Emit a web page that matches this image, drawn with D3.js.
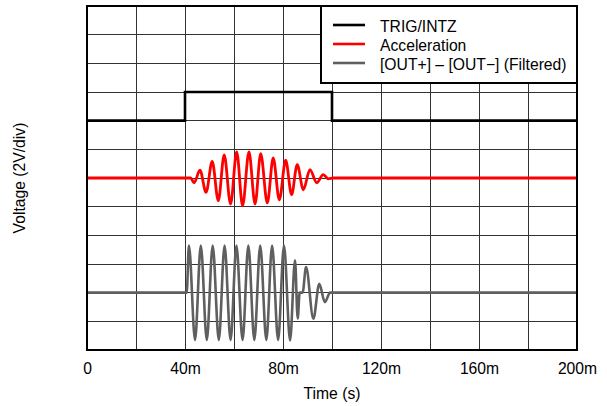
<!DOCTYPE html>
<html>
<head>
<meta charset="utf-8">
<script src="https://cdn.jsdelivr.net/npm/d3@7"></script>
<style>
  html, body { margin: 0; padding: 0; background: #fff; }
  svg { display: block; font-family: "Liberation Sans", Arial, Helvetica, sans-serif; }
</style>
</head>
<body>
<svg id="chart" width="607" height="406"></svg>
<script>
// ---- Data (time in ms, levels in divisions, 2 V/div) ----
const xTickValues = [0, 40, 80, 120, 160, 200];
const xTickLabels = ["0", "40m", "80m", "120m", "160m", "200m"];
const seriesNames = ["TRIG/INTZ", "Acceleration", "[OUT+] \u2013 [OUT\u2212] (Filtered)"];

const trigTime  = [0, 40, 40, 100, 100, 200];
const trigLevel = [8, 8, 9, 9, 8, 8];

const accelBase  = 6;
const accelTime  = [0, 42.3, 43.7, 46.1, 48.6, 51.1, 53.6, 56.0, 58.6, 61.1, 63.5, 66.1, 68.6, 70.9, 73.6, 76.0, 78.5, 81.1, 83.5, 85.8, 88.3, 91.0, 93.8, 96.4, 98.5, 100.5, 200];
const accelValue = [0, 0, -0.17, 0.27, -0.5, 0.58, -0.79, 0.81, -0.91, 0.91, -0.97, 0.91, -0.91, 0.85, -0.87, 0.70, -0.76, 0.62, -0.58, 0.47, -0.41, 0.29, -0.17, 0.12, -0.03, 0, 0];

const outBase  = 2;
const outTime  = [0, 40.7, 41.6, 44.1, 46.45, 48.9, 51.3, 53.8, 56.15, 58.6, 61.0, 63.5, 65.85, 68.3, 70.7, 73.2, 75.55, 78.0, 80.4, 82.9, 84.9, 86.0, 86.8, 88.0, 89.4, 92.4, 94.8, 97.1, 99.2, 200];
const outValue = [0, 0, 1.64, -1.65, 1.64, -1.65, 1.64, -1.65, 1.64, -1.65, 1.64, -1.65, 1.64, -1.65, 1.64, -1.65, 1.64, -1.65, 1.64, -1.67, 1.13, -0.9, 0, 0, 0.89, -0.91, 0.31, -0.33, 0, 0];

// ---- Layout ----
const L = 87, R = 577, T = 6, B = 350;
const FS = 15.7;
const svg = d3.select("#chart");

const x = d3.scaleLinear().domain([0, 200]).range([L, R]);
const y = d3.scaleLinear().domain([0, 12]).range([B, T]);

// grid
const grid = svg.append("g");
d3.range(0, 201, 20).forEach(v => {
  grid.append("line").attr("x1", x(v)).attr("x2", x(v)).attr("y1", T).attr("y2", B)
    .attr("stroke", "#333").attr("stroke-width", 1).attr("shape-rendering", "crispEdges");
});
d3.range(0, 13, 1).forEach(v => {
  grid.append("line").attr("x1", L).attr("x2", R).attr("y1", y(v)).attr("y2", y(v))
    .attr("stroke", "#333").attr("stroke-width", 1).attr("shape-rendering", "crispEdges");
});

// traces
const trigPts  = trigTime.map((t, i) => [t, trigLevel[i]]);
const accelPts = accelTime.map((t, i) => [t, accelBase + accelValue[i]]);
const outPts   = outTime.map((t, i) => [t, outBase + outValue[i]]);

const lineLin = d3.line().x(d => x(d[0])).y(d => y(d[1]));
const lineSmooth = d3.line().x(d => x(d[0])).y(d => y(d[1])).curve(d3.curveMonotoneX);

svg.append("path").attr("d", lineSmooth(outPts)).attr("fill", "none")
  .attr("stroke", "#5f5f5f").attr("stroke-width", 2.6).attr("stroke-linejoin", "round");
svg.append("path").attr("d", lineSmooth(accelPts)).attr("fill", "none")
  .attr("stroke", "#ff0000").attr("stroke-width", 2.8).attr("stroke-linejoin", "round");
svg.append("path").attr("d", lineLin(trigPts)).attr("fill", "none")
  .attr("stroke", "#000").attr("stroke-width", 2.6);

// border
svg.append("rect").attr("x", L).attr("y", T).attr("width", R - L).attr("height", B - T)
  .attr("fill", "none").attr("stroke", "#000").attr("stroke-width", 2);

// x axis
const xAxis = d3.axisBottom(x).tickValues(xTickValues)
  .tickFormat((d, i) => xTickLabels[i]).tickSize(0).tickPadding(13);
const gx = svg.append("g").attr("transform", `translate(0,${B})`).call(xAxis);
gx.select(".domain").remove();
gx.selectAll("text").attr("font-size", FS).attr("fill", "#000")
  .attr("font-family", "'Liberation Sans', Arial, sans-serif");

svg.append("text").attr("x", (L + R) / 2).attr("y", 399.3).attr("text-anchor", "middle")
  .attr("font-size", FS).attr("fill", "#000").text("Time (s)");

svg.append("text").attr("transform", `translate(25,${(T + B) / 2}) rotate(-90)`)
  .attr("text-anchor", "middle").attr("font-size", FS).attr("fill", "#000")
  .text("Voltage (2V/div)");

// legend
const legX = 321, legY = T, legW = R - 321, legH = 77;
const leg = svg.append("g");
leg.append("rect").attr("x", legX).attr("y", legY).attr("width", legW).attr("height", legH)
  .attr("fill", "#fff").attr("stroke", "#000").attr("stroke-width", 2);
const legColors = ["#000", "#ff0000", "#5f5f5f"];
seriesNames.forEach((name, i) => {
  const cy = 25 + i * 19;
  leg.append("line").attr("x1", 333).attr("x2", 365).attr("y1", cy).attr("y2", cy)
    .attr("stroke", legColors[i]).attr("stroke-width", 2.6);
  leg.append("text").attr("x", 380).attr("y", cy + 6.5).attr("font-size", FS)
    .attr("fill", "#000").text(name);
});
</script>
</body>
</html>
